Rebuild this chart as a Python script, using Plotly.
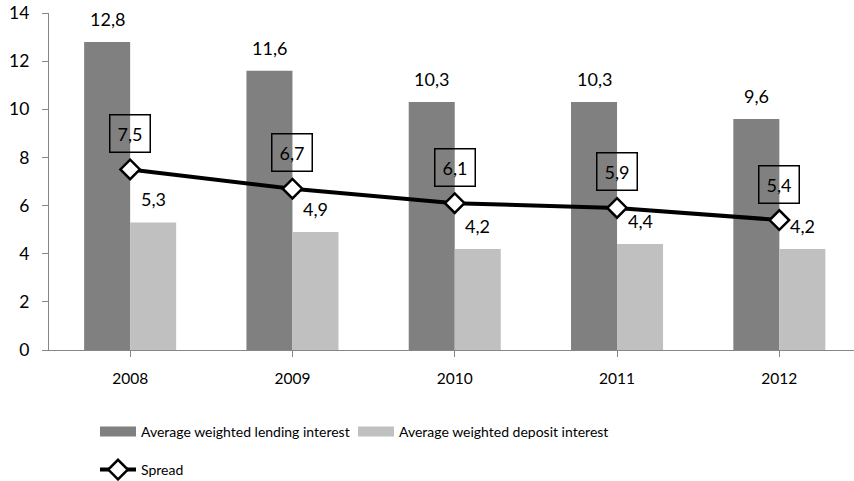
import plotly.graph_objects as go

years = ["2008", "2009", "2010", "2011", "2012"]
lending = [12.8, 11.6, 10.3, 10.3, 9.6]
deposit = [5.3, 4.9, 4.2, 4.4, 4.2]
spread = [7.5, 6.7, 6.1, 5.9, 5.4]
y_ticks = [0, 2, 4, 6, 8, 10, 12, 14]

FONT = "Lato, 'Open Sans', sans-serif"
DARK = "#808080"
LIGHT = "#C0C0C0"
xs = list(range(len(years)))

W, H = 854, 481

def fmt(v):
    return f"{v:.1f}".replace(".", ",")

fig = go.Figure()
fig.add_trace(go.Bar(x=xs, y=lending, name="Average weighted lending interest",
                     marker=dict(color=DARK, line=dict(width=0)), showlegend=False))
fig.add_trace(go.Bar(x=xs, y=deposit, name="Average weighted deposit interest",
                     marker=dict(color=LIGHT, line=dict(width=0)), showlegend=False))
fig.add_trace(go.Scatter(x=xs, y=spread, name="Spread", mode="lines+markers",
                         line=dict(color="black", width=4),
                         marker=dict(symbol="diamond", size=15, color="white",
                                     line=dict(color="black", width=2.5)),
                         legend="legend2"))
# legend swatches (wide rectangles like the original)
fig.add_trace(go.Scatter(x=[None], y=[None], mode="lines", name="Average weighted lending interest",
                         line=dict(color=DARK, width=10), legend="legend"))
fig.add_trace(go.Scatter(x=[None], y=[None], mode="lines", name="Average weighted deposit interest",
                         line=dict(color=LIGHT, width=10), legend="legend"))

ann = []
for i in xs:
    ann.append(dict(x=i, y=lending[i], text=fmt(lending[i]), showarrow=False,
                    xshift=-23, yshift=23, font=dict(size=18, color="black", family=FONT)))
    ann.append(dict(x=i, y=deposit[i], text=fmt(deposit[i]), showarrow=False,
                    xshift=23, yshift=23, font=dict(size=18, color="black", family=FONT)))
    ann.append(dict(x=i, y=spread[i], text=fmt(spread[i]), showarrow=False,
                    yshift=36, bordercolor="black", borderwidth=1.5, borderpad=7,
                    font=dict(size=18, color="black", family=FONT)))

leg_common = dict(orientation="h", xanchor="left", yanchor="middle",
                  xref="container", yref="container",
                  font=dict(size=14, family=FONT, color="black"),
                  itemwidth=36, bgcolor="rgba(0,0,0,0)", traceorder="normal")

fig.update_layout(
    width=W, height=H,
    margin=dict(l=49, r=0, t=13, b=131, autoexpand=False),
    paper_bgcolor="white", plot_bgcolor="white",
    barmode="group", bargap=0.433, bargroupgap=0,
    font=dict(family=FONT, size=16, color="black"),
    annotations=ann,
    showlegend=True,
    legend=dict(x=95 / W, y=1 - 432 / H, entrywidth=207, **leg_common),
    legend2=dict(x=95 / W, y=1 - 470 / H, **leg_common),
    xaxis=dict(range=[-0.5, 4.46], tickvals=xs, ticktext=years, showgrid=False,
               zeroline=False, showline=True, linecolor="#868686", linewidth=1.3,
               ticks="outside", tickson="boundaries", ticklen=6, tickcolor="#868686",
               tickfont=dict(size=15.5, family=FONT), ticklabelstandoff=8,
               automargin=False),
    yaxis=dict(range=[0, 14], tickvals=y_ticks, showgrid=False, zeroline=False,
               showline=True, linecolor="#868686", linewidth=1.3,
               ticks="outside", ticklen=6, tickcolor="#868686",
               tickfont=dict(size=17.5, family=FONT), ticklabelstandoff=9,
               automargin=False),
)

fig.write_html("out.html", config={"displayModeBar": False},
               post_script="document.body.style.margin='0';document.body.style.overflow='hidden';")
